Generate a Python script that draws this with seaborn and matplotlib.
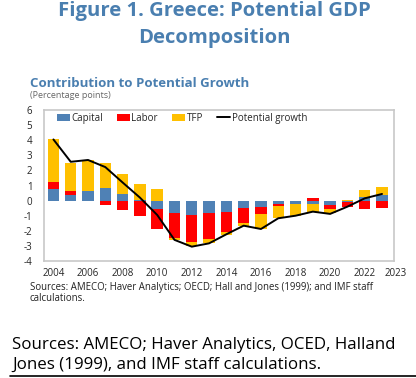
import numpy as np
import matplotlib as mpl
import matplotlib.pyplot as plt
import seaborn as sns

# contributions, percentage points
years = [str(y) for y in range(2004, 2024)]
capital = [0.80, 0.37, 0.64, 0.84, 0.45, 0.02, -0.55, -0.80, -0.95, -0.84,
           -0.73, -0.51, -0.40, -0.22, -0.22, -0.20, -0.29, -0.08, 0.26, 0.38]
labor = [0.45, 0.27, 0.00, -0.30, -0.62, -1.00, -1.33, -1.70, -1.81, -1.72,
         -1.32, -0.99, -0.50, -0.13, 0.00, 0.15, -0.29, -0.35, -0.57, -0.50]
tfp = [2.80, 1.88, 2.05, 1.63, 1.32, 1.10, 0.78, -0.10, -0.22, -0.27,
       -0.22, -0.16, -0.98, -0.80, -0.78, -0.55, -0.26, 0.05, 0.44, 0.55]
potential = [4.05, 2.57, 2.69, 2.22, 1.20, 0.20, -0.95, -2.60, -3.05, -2.83,
             -2.23, -1.66, -1.88, -1.17, -1.00, -0.73, -0.88, -0.40, 0.15, 0.44]
tick_years = ["2004", "2006", "2008", "2010", "2012", "2014", "2016", "2018", "2020", "2022"]

BLUE = "#4f81b5"
RED = "#ff0000"
GOLD = "#ffc000"
TITLE_BLUE = "#4a7fb0"

sns.set_theme(style="white")
mpl.rcParams["font.family"] = ["Open Sans", "DejaVu Sans"]

fig = plt.figure(figsize=(4.16, 3.78), dpi=100)
ax = fig.add_axes([0.106, 0.3095, 0.841, 0.3995])

pos_base = np.zeros(len(years))
neg_base = np.zeros(len(years))
for vals, col, lab in [(capital, BLUE, "Capital"), (labor, RED, "Labor"), (tfp, GOLD, "TFP")]:
    vals = np.array(vals)
    bottoms = np.where(vals >= 0, pos_base, neg_base)
    sns.barplot(x=years, y=vals, bottom=bottoms, color=col, width=0.66,
                saturation=1, label=lab, ax=ax, linewidth=0)
    pos_base += np.clip(vals, 0, None)
    neg_base += np.clip(vals, None, 0)

sns.lineplot(x=np.arange(len(years)), y=potential, color="black", linewidth=1.4,
             label="Potential growth", ax=ax)

ax.set_xlim(-0.54, 19.69)
ax.set_ylim(-4, 6)
ax.set_yticks(range(-4, 7))
ax.set_yticklabels([str(v) for v in range(-4, 7)], fontsize=7)
ax.set_xticks([years.index(t) for t in tick_years])
ax.set_xticklabels(tick_years, fontsize=7)
ax.text(19.8, -4.8, "2023", fontsize=7, ha="center", va="center")
ax.tick_params(axis="y", length=2.5, width=0.8, color="#bfbfbf", pad=6)
ax.tick_params(axis="x", length=0, pad=5)
ax.set_xlabel("")
ax.set_ylabel("")
for sp in ax.spines.values():
    sp.set_color("#c8c8c8")
    sp.set_linewidth(1.2)

handles, labels = ax.get_legend_handles_labels()
order = [labels.index(n) for n in ["Capital", "Labor", "TFP", "Potential growth"]]
ax.legend([handles[i] for i in order], [labels[i] for i in order],
          loc="upper left", ncol=4, frameon=False, fontsize=7,
          bbox_to_anchor=(0.02, 1.02), handlelength=1.3, handletextpad=0.15,
          columnspacing=1.5, borderaxespad=0.2)

fig.text(0.515, 0.972, "Figure 1. Greece: Potential GDP", ha="center", va="center",
         fontsize=14.6, fontweight="bold", color=TITLE_BLUE)
fig.text(0.515, 0.900, "Decomposition", ha="center", va="center",
         fontsize=14.6, fontweight="bold", color=TITLE_BLUE)
fig.text(0.072, 0.779, "Contribution to Potential Growth", ha="left", va="center",
         fontsize=9.5, fontweight="bold", color=TITLE_BLUE)
fig.text(0.072, 0.748, "(Percentage points)", ha="left", va="center",
         fontsize=6.5, color="#666666")
fig.text(0.072, 0.240, "Sources: AMECO; Haver Analytics; OECD; Hall and Jones (1999); and IMF staff",
         ha="left", va="center", fontsize=6.9, color="#222222")
fig.text(0.072, 0.211, "calculations.", ha="left", va="center", fontsize=6.9, color="#222222")
fig.text(0.03, 0.088, "Sources: AMECO; Haver Analytics, OCED, Halland", ha="left", va="center",
         fontsize=12.2, color="black")
fig.text(0.03, 0.036, "Jones (1999), and IMF staff calculations.", ha="left", va="center",
         fontsize=12.2, color="black")
fig.add_artist(plt.Line2D([0.024, 1.0], [0.004, 0.004], color="black", linewidth=1.2))

fig.savefig("out.png", dpi=100)
